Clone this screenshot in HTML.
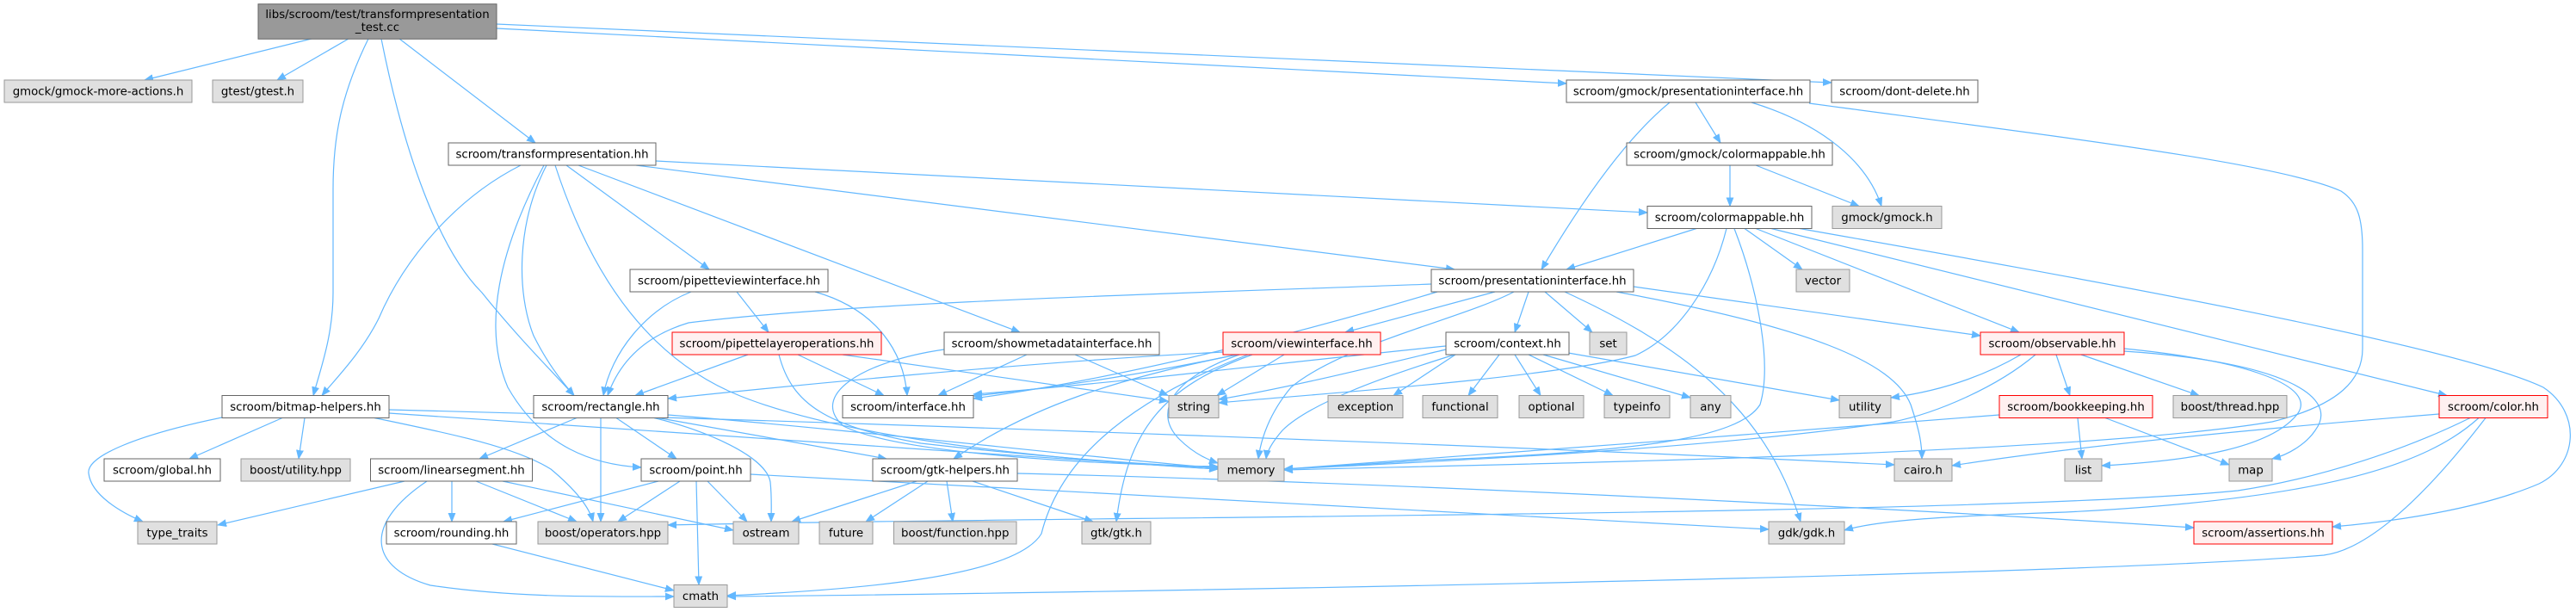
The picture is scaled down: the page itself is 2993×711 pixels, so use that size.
<!DOCTYPE html>
<html>
<head>
<meta charset="utf-8">
<style>
  html,body{margin:0;padding:0;background:#ffffff;}
  svg{display:block;}
  .n rect{stroke-width:1;}
  .w rect{fill:#ffffff;stroke:#666666;}
  .g rect{fill:#e0e0e0;stroke:#999999;}
  .r rect{fill:#fff0f0;stroke:#ff0000;}
  .root rect{fill:#999999;stroke:#666666;}
  text{font-family:"DejaVu Sans","Liberation Sans",sans-serif;font-size:13.33px;fill:#000000;text-anchor:middle;}
  .e path{fill:none;stroke:#63b8ff;stroke-width:1.2;marker-end:url(#ah);}
</style>
</head>
<body>
<svg width="2993" height="711" viewBox="0 0 2993 711" xmlns="http://www.w3.org/2000/svg">
<defs>
  <marker id="ah" markerUnits="userSpaceOnUse" markerWidth="12" markerHeight="10" refX="10" refY="4.5" orient="auto">
    <path d="M0,0.5 L10,4.5 L0,8.5 z" fill="#63b8ff" stroke="#63b8ff" stroke-width="0.8"/>
  </marker>
</defs>
<rect x="0" y="0" width="2993" height="711" fill="#ffffff"/>

<g class="e">
<path d="M362,45 L168,93"/>
<path d="M405,45 L322,93"/>
<path d="M428,45 C396,110 387,160 387,220 L387,340 C387,390 372,430 364,459.5"/>
<path d="M443,45 C470,180 510,290 560,340 C600,390 640,430 667,459.5"/>
<path d="M464,45 L622,166"/>
<path d="M577,33 L1820,97"/>
<path d="M577,28 L2128,96"/>
<path d="M605,192 C530,230 470,300 440,370 C420,410 390,440 374,459.5"/>
<path d="M635,192 C600,260 600,340 620,390 C635,420 650,440 667,459.5"/>
<path d="M632,192 C580,290 560,380 590,450 C630,520 690,540 745,543"/>
<path d="M645,192 C690,330 760,420 860,460 C960,500 1150,530 1415,545"/>
<path d="M658,192 L824,313"/>
<path d="M672,192 L1185,386"/>
<path d="M739,192 L1690,313"/>
<path d="M762,187 L1914,247"/>
<path d="M1940,119 C1890,160 1840,230 1791,313"/>
<path d="M1970,119 L1999,166"/>
<path d="M2035,119 C2120,145 2170,190 2186,239.5"/>
<path d="M2102,120 C2400,160 2650,190 2720,222 C2740,235 2745,255 2745,290 L2745,405 C2745,440 2720,470 2640,490 C2400,530 1700,540 1492,546"/>
<path d="M2010,192 L2010,239.5"/>
<path d="M2040,192 L2160,239.5"/>
<path d="M1971,265.5 L1820,313"/>
<path d="M2006,265.5 C1990,330 1950,390 1900,413 C1800,440 1500,460 1416,468"/>
<path d="M2015,265.5 C2040,330 2060,420 2045,470 C2020,510 1900,525 1650,535 C1580,540 1520,543 1492,545"/>
<path d="M2027,265.5 L2094,313"/>
<path d="M2040,265.5 L2346,386"/>
<path d="M2058,265.5 L2843,459.5"/>
<path d="M2091,265.5 C2400,320 2850,400 2955,450 C3000,480 2995,540 2950,562 C2880,592 2780,606 2710,612"/>
<path d="M1776,339 L1760,386"/>
<path d="M1795,339 L1850,386"/>
<path d="M1818,339 C1950,400 2050,470 2092,606"/>
<path d="M1878,339 C2100,380 2200,420 2220,470 C2230,500 2233,515 2233,533"/>
<path d="M1898,333 L2301,390"/>
<path d="M1737,339 L1563,386"/>
<path d="M1759,339 C1700,370 1560,400 1500,450 C1475,480 1465,510 1462,533"/>
<path d="M1663,330 C1400,340 1000,350 800,375 C750,390 720,420 706,459.5"/>
<path d="M1670,339 C1500,390 1300,440 1131,463"/>
<path d="M1691,412 L1619,459.5"/>
<path d="M1742,412 L1706,459.5"/>
<path d="M1760,412 L1790,459.5"/>
<path d="M1776,412 L1874,459.5"/>
<path d="M1793,412 L1964,462"/>
<path d="M1822,410 L2137,465"/>
<path d="M1680,406 C1600,425 1500,450 1416,464"/>
<path d="M1690,412 C1600,440 1520,470 1490,500 C1477,515 1472,525 1471,533"/>
<path d="M1680,402 C1500,420 1300,445 1131,458"/>
<path d="M1421,409 C1200,420 900,450 776,463"/>
<path d="M1437,412 C1350,430 1250,448 1131,460"/>
<path d="M1492,412 L1414,459.5"/>
<path d="M1437,412 C1300,440 1200,470 1108,533"/>
<path d="M1455,412 C1350,450 1310,500 1297,606"/>
<path d="M1450,412 C1300,470 1230,540 1210,620 C1180,670 1000,685 845,692"/>
<path d="M1440,412 C1360,440 1340,480 1370,510 C1385,525 1400,533 1415,538"/>
<path d="M803,339 C750,360 710,410 701,459.5"/>
<path d="M856,339 L893,386"/>
<path d="M947,339 C1020,360 1050,410 1054,459.5"/>
<path d="M869,412 L738,459.5"/>
<path d="M927,412 L1027,459.5"/>
<path d="M979,412 L1357,466"/>
<path d="M905,412 C920,470 960,495 1070,515 C1200,530 1330,540 1415,543"/>
<path d="M1193,412 L1090,459.5"/>
<path d="M1249,412 L1357,459.5"/>
<path d="M1097,406 C1000,420 940,460 980,495 C1050,530 1300,540 1415,542"/>
<path d="M2389,412 L2405,459.5"/>
<path d="M2418,412 L2555,459.5"/>
<path d="M2468,405 C2620,420 2690,450 2670,480 C2640,520 2550,535 2442,541"/>
<path d="M2468,408 C2650,420 2720,460 2690,500 C2680,515 2660,528 2640,533"/>
<path d="M2365,412 C2320,450 2250,480 2200,490 C2000,520 1700,535 1492,545"/>
<path d="M2348,412 C2300,440 2250,455 2197,462"/>
<path d="M2414,485.5 L2419,533"/>
<path d="M2446,485.5 L2590,540"/>
<path d="M2323,482 C2100,500 1700,530 1492,545"/>
<path d="M2834,481 C2600,500 2400,520 2268,541"/>
<path d="M2870,485.5 C2800,520 2700,555 2600,570 C2300,600 1200,600 776,610"/>
<path d="M2880,485.5 C2820,540 2700,580 2400,595 C2250,600 2180,605 2143,616"/>
<path d="M2888,485.5 C2800,600 2740,640 2700,645 C2400,670 1200,690 845,693"/>
<path d="M258,485 C160,505 100,530 103,550 C106,575 140,595 166,606"/>
<path d="M328,485.5 L220,533"/>
<path d="M354,485.5 L347,533"/>
<path d="M435,485.5 C530,505 600,520 640,545 C670,570 685,590 689,606"/>
<path d="M452,480 C700,495 1100,525 1415,545"/>
<path d="M452,476 C1000,490 1800,520 2201,540"/>
<path d="M670,485.5 L557,533"/>
<path d="M698,485.5 L698,606"/>
<path d="M716,485.5 L786,533"/>
<path d="M760,485.5 C820,500 890,530 895,560 C897,580 896,595 896,606"/>
<path d="M765,485.5 L1030,533"/>
<path d="M776,482 C1000,500 1250,530 1415,544"/>
<path d="M470,559 L253,610"/>
<path d="M525,559 L525,606"/>
<path d="M553,559 L670,606"/>
<path d="M496,559 C420,610 430,660 500,680 C600,695 700,693 783,693"/>
<path d="M584,559 L852,616"/>
<path d="M765,559 L585,606"/>
<path d="M790,559 L718,606"/>
<path d="M809,559 L812,679.5"/>
<path d="M822,559 L868,606"/>
<path d="M872,551 L2055,615"/>
<path d="M1065,559 L920,606"/>
<path d="M1078,559 L1006,606"/>
<path d="M1100,559 L1107,606"/>
<path d="M1130,559 L1270,606"/>
<path d="M1182,550 C1600,560 2200,590 2549,613"/>
<path d="M572,632 L783,686"/>
</g>

<!-- root -->
<g class="n root"><rect x="300" y="4.7" width="277" height="40.6"/>
<text x="438.5" y="21">libs/scroom/test/transformpresentation</text>
<text x="438.5" y="36">_test.cc</text></g>

<!-- row 1 -->
<g class="n g"><rect x="5" y="93" width="218" height="26"/><text x="114" y="110.5">gmock/gmock-more-actions.h</text></g>
<g class="n g"><rect x="247" y="93" width="105" height="26"/><text x="299.5" y="110.5">gtest/gtest.h</text></g>
<g class="n w"><rect x="1820" y="93" width="283" height="26"/><text x="1961.5" y="110.5">scroom/gmock/presentationinterface.hh</text></g>
<g class="n w"><rect x="2128" y="93" width="170" height="26"/><text x="2213" y="110.5">scroom/dont-delete.hh</text></g>

<!-- row 2 -->
<g class="n w"><rect x="521" y="166" width="241" height="26"/><text x="641.5" y="183.5">scroom/transformpresentation.hh</text></g>
<g class="n w"><rect x="1890" y="166" width="239" height="26"/><text x="2009.5" y="183.5">scroom/gmock/colormappable.hh</text></g>

<!-- row 3 -->
<g class="n w"><rect x="1914" y="239.5" width="191" height="26"/><text x="2009.5" y="257">scroom/colormappable.hh</text></g>
<g class="n g"><rect x="2129" y="239.5" width="127" height="26"/><text x="2192.5" y="257">gmock/gmock.h</text></g>

<!-- row 4 -->
<g class="n w"><rect x="732" y="313" width="230" height="26"/><text x="847" y="330.5">scroom/pipetteviewinterface.hh</text></g>
<g class="n w"><rect x="1663" y="313" width="235" height="26"/><text x="1780.5" y="330.5">scroom/presentationinterface.hh</text></g>
<g class="n g"><rect x="2087" y="313" width="62" height="26"/><text x="2118" y="330.5">vector</text></g>

<!-- row 5 -->
<g class="n r"><rect x="781" y="386" width="243" height="26"/><text x="902.5" y="403.5">scroom/pipettelayeroperations.hh</text></g>
<g class="n w"><rect x="1097" y="386" width="250" height="26"/><text x="1222" y="403.5">scroom/showmetadatainterface.hh</text></g>
<g class="n r"><rect x="1421" y="386" width="183" height="26"/><text x="1512.5" y="403.5">scroom/viewinterface.hh</text></g>
<g class="n w"><rect x="1680" y="386" width="143" height="26"/><text x="1751.5" y="403.5">scroom/context.hh</text></g>
<g class="n g"><rect x="1847" y="386" width="43" height="26"/><text x="1868.5" y="403.5">set</text></g>
<g class="n r"><rect x="2301" y="386" width="167" height="26"/><text x="2384.5" y="403.5">scroom/observable.hh</text></g>

<!-- row 6 -->
<g class="n w"><rect x="258" y="459.5" width="194" height="26"/><text x="355" y="477">scroom/bitmap-helpers.hh</text></g>
<g class="n w"><rect x="620" y="459.5" width="156" height="26"/><text x="698" y="477">scroom/rectangle.hh</text></g>
<g class="n w"><rect x="979" y="459.5" width="152" height="26"/><text x="1055" y="477">scroom/interface.hh</text></g>
<g class="n g"><rect x="1358" y="459.5" width="58" height="26"/><text x="1387" y="477">string</text></g>
<g class="n g"><rect x="1543" y="459.5" width="87" height="26"/><text x="1586.5" y="477">exception</text></g>
<g class="n g"><rect x="1653" y="459.5" width="87" height="26"/><text x="1696.5" y="477">functional</text></g>
<g class="n g"><rect x="1765" y="459.5" width="75" height="26"/><text x="1802.5" y="477">optional</text></g>
<g class="n g"><rect x="1864" y="459.5" width="76" height="26"/><text x="1902" y="477">typeinfo</text></g>
<g class="n g"><rect x="1964" y="459.5" width="47" height="26"/><text x="1987.5" y="477">any</text></g>
<g class="n g"><rect x="2137" y="459.5" width="60" height="26"/><text x="2167" y="477">utility</text></g>
<g class="n r"><rect x="2323" y="459.5" width="178" height="26"/><text x="2412" y="477">scroom/bookkeeping.hh</text></g>
<g class="n g"><rect x="2525" y="459.5" width="132" height="26"/><text x="2591" y="477">boost/thread.hpp</text></g>
<g class="n r"><rect x="2834" y="459.5" width="126" height="26"/><text x="2897" y="477">scroom/color.hh</text></g>

<!-- row 7 -->
<g class="n w"><rect x="121" y="533" width="135" height="26"/><text x="188.5" y="550.5">scroom/global.hh</text></g>
<g class="n g"><rect x="280" y="533" width="127" height="26"/><text x="343.5" y="550.5">boost/utility.hpp</text></g>
<g class="n w"><rect x="430.5" y="533" width="188" height="26"/><text x="524.5" y="550.5">scroom/linearsegment.hh</text></g>
<g class="n w"><rect x="745" y="533" width="127" height="26"/><text x="808.5" y="550.5">scroom/point.hh</text></g>
<g class="n w"><rect x="1014" y="533" width="168" height="26"/><text x="1098" y="550.5">scroom/gtk-helpers.hh</text></g>
<g class="n g"><rect x="1415" y="533" width="77" height="26"/><text x="1453.5" y="550.5">memory</text></g>
<g class="n g"><rect x="2201" y="533" width="67" height="26"/><text x="2234.5" y="550.5">cairo.h</text></g>
<g class="n g"><rect x="2399" y="533" width="43" height="26"/><text x="2420.5" y="550.5">list</text></g>
<g class="n g"><rect x="2590" y="533" width="50" height="26"/><text x="2615" y="550.5">map</text></g>

<!-- row 8 -->
<g class="n g"><rect x="160" y="606" width="92" height="26"/><text x="206" y="623.5">type_traits</text></g>
<g class="n w"><rect x="449" y="606" width="151" height="26"/><text x="524.5" y="623.5">scroom/rounding.hh</text></g>
<g class="n g"><rect x="625" y="606" width="151" height="26"/><text x="700.5" y="623.5">boost/operators.hpp</text></g>
<g class="n g"><rect x="852" y="606" width="76" height="26"/><text x="890" y="623.5">ostream</text></g>
<g class="n g"><rect x="952" y="606" width="62" height="26"/><text x="983" y="623.5">future</text></g>
<g class="n g"><rect x="1038.5" y="606" width="142.5" height="26"/><text x="1109.75" y="623.5">boost/function.hpp</text></g>
<g class="n g"><rect x="1257" y="606" width="80" height="26"/><text x="1297" y="623.5">gtk/gtk.h</text></g>
<g class="n g"><rect x="2055" y="606" width="88" height="26"/><text x="2099" y="623.5">gdk/gdk.h</text></g>
<g class="n r"><rect x="2549" y="606" width="161" height="26"/><text x="2629.5" y="623.5">scroom/assertions.hh</text></g>

<!-- row 9 -->
<g class="n g"><rect x="783" y="679.5" width="62" height="26"/><text x="814" y="697">cmath</text></g>
</svg>
</body>
</html>
